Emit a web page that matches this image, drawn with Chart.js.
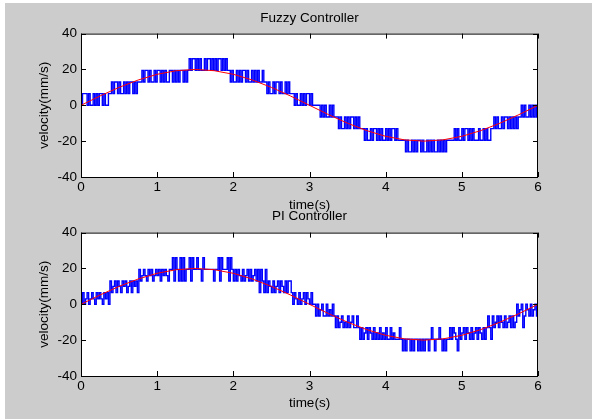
<!DOCTYPE html>
<html>
<head>
<meta charset="utf-8">
<script src="https://cdn.jsdelivr.net/npm/chart.js@4"></script>
<style>
    html, body { margin: 0; padding: 0; background: #ffffff; }
    #figura { position: absolute; left: 5px; top: 3px; width: 587px; height: 416px; background: #cccccc; }
    canvas { position: absolute; left: 0; }
    #grafico-fuzzy { top: 0; width: 592px; height: 213px; }
    #grafico-pi { top: 200px; width: 592px; height: 219px; }
</style>
</head>
<body>
<div id="figura"></div>
<canvas id="grafico-fuzzy" width="592" height="213"></canvas>
<canvas id="grafico-pi" width="592" height="219"></canvas>
<script>
const passoAmostra = 0.02; // s entre amostras medidas

const ticksTempo = [0, 1, 2, 3, 4, 5, 6];
const ticksVelocidade = [-40, -20, 0, 20, 40];

// referencia (linha vermelha)
const tempoReferencia = [0, 0.25, 0.5, 0.75, 1, 1.25, 1.5, 1.75, 2, 2.25, 2.5, 2.75, 3,
    3.25, 3.5, 3.75, 4, 4.25, 4.5, 4.75, 5, 5.25, 5.5, 5.75, 6];
const velocidadeReferencia = [0, 5.2, 10, 14.1, 17.3, 19.3, 20, 19.3, 17.3, 14.1, 10, 5.2, 0,
    -5.2, -10, -14.1, -17.3, -19.3, -20, -19.3, -17.3, -14.1, -10, -5.2, 0];

// velocidade medida com controlador fuzzy, uma amostra a cada 0.02 s
const velocidadeFuzzy = [
    0, 6.5, 6.5, 6.5, 0, 6.5, 0, 0, 6.5, 0, 6.5, 0, 6.5, 6.5, 0, 6.5, 0, 0, 6.5,
    6.5, 13, 6.5, 13, 13, 6.5, 13, 6.5, 6.5, 13, 6.5, 13, 6.5, 13, 13, 6.5, 13, 6.5, 13,
    13, 13, 19.5, 13, 19.5, 19.5, 13, 19.5, 13, 13, 19.5, 13, 19.5, 19.5, 13, 19.5, 13, 19.5, 13, 13, 19.5, 19.5, 13, 19.5, 13, 19.5, 13, 19.5, 19.5, 13, 19.5, 13,
    19.5, 26, 19.5, 26, 26, 19.5, 26, 19.5, 26, 19.5, 19.5, 26, 19.5, 26, 26, 19.5, 26, 19.5, 26, 19.5, 26, 26, 19.5, 26, 19.5, 26, 19.5,
    19.5, 13, 19.5, 13, 13, 19.5, 13, 19.5, 13, 19.5, 19.5, 13, 19.5, 13, 13, 19.5, 13, 19.5, 13, 19.5, 13, 13, 19.5, 13,
    13, 6.5, 13, 6.5, 6.5, 13, 6.5, 13, 13, 6.5, 13, 6.5, 6.5, 13, 6.5, 13, 6.5, 6.5,
    6.5, 0, 6.5, 0, 0, 6.5, 0, 6.5, 0, 6.5, 6.5, 0, 6.5, 0,
    0, 0, 0, 0, -6.5, 0, -6.5, 0, -6.5, -6.5, 0, -6.5, 0, -6.5, -6.5,
    -6.5, -13, -6.5, -13, -13, -6.5, -13, -6.5, -13, -6.5, -6.5, -13, -6.5, -13, -6.5, -13, -13,
    -13, -19.5, -13, -19.5, -19.5, -13, -19.5, -13, -13, -19.5, -13, -19.5, -13, -19.5, -19.5, -13, -19.5, -13, -19.5, -13, -13, -19.5, -13, -19.5,
    -19.5, -19.5, -19.5, -19.5,
    -26, -19.5, -26, -26, -19.5, -26, -19.5, -26, -19.5, -19.5, -26, -19.5, -26, -26, -19.5, -26, -19.5, -26, -19.5, -26, -26, -19.5, -26, -19.5, -26, -19.5, -26, -19.5,
    -19.5, -19.5, -19.5, -19.5,
    -13, -19.5, -13, -19.5, -19.5, -13, -19.5, -13, -13, -19.5, -13, -19.5, -13, -19.5, -19.5, -19.5, -13, -19.5, -19.5, -13, -19.5, -13, -19.5, -19.5,
    -13, -13, -6.5, -13, -6.5, -13, -13, -6.5, -13, -6.5, -6.5, -13, -6.5, -13, -6.5, -13, -6.5, -13,
    -6.5, -6.5, 0, -6.5, 0, -6.5, -6.5, 0, -6.5, 0, -6.5, 0, -6.5, 0
];

// velocidade medida com controlador PI, mesma amostragem
const velocidadePi = [
    0, 6.5, 0, 3, 6.5, 0, 3, 6.5, 3, 0, 6.5, 3, 6.5, 3, 0, 6.5, 3, 6.5,
    0,
    13, 6.5, 10, 13, 6.5, 13, 10, 6.5, 13, 10, 13, 6.5, 10, 13, 6.5, 13, 10, 13,
    6.5,
    19.5, 13, 16, 19.5, 16, 13, 19.5, 16, 19.5, 13, 16, 19.5, 16, 19.5, 13, 19.5, 16, 19.5, 16, 13, 19.5,
    19.5, 26, 13, 26, 19.5, 13, 26, 13, 26, 13, 19.5, 19.5, 26, 13, 26, 19.5, 19.5, 26, 19.5, 19.5, 13,
    26, 19.5, 19.5, 19.5, 19.5, 19.5, 19.5, 13, 19.5, 19.5, 26, 13, 26, 19.5, 19.5, 19.5, 26, 13, 26, 19.5,
    13, 19.5, 13, 19.5, 16, 13, 19.5, 13, 16, 19.5, 13, 19.5, 13, 16, 19.5, 13, 19.5, 6.5, 19.5, 13, 6.5,
    19.5, 6.5, 13, 10, 6.5, 13, 6.5, 10, 13, 6.5, 13, 10, 6.5, 13, 6.5, 13,
    13, 6.5, 0, 6.5, 3, 0, 6.5, 0, 3, 6.5, 0, 6.5, 3, 0, 6.5, 0, 0,
    -6.5, 0, -6.5, -3, 0, -6.5, -6.5, 0, -6.5, -3, -6.5, 0, -6.5,
    -13, -6.5, -13, -10, -6.5, -13, -10, -13, -6.5, -13, -10, -6.5, -13, -13, -6.5, -13,
    -19.5, -13, -19.5, -16, -13, -19.5, -13, -16, -19.5, -13, -19.5, -16, -19.5, -13, -19.5, -16, -19.5, -13, -19.5, -19.5, -13, -19.5, -16, -19.5, -19.5,
    -19.5, -13, -19.5, -26, -19.5, -26, -19.5, -19.5, -26, -19.5, -26, -19.5, -19.5, -26, -19.5, -26, -19.5,
    -26, -19.5, -19.5, -26, -19.5, -13, -19.5, -26, -19.5, -19.5, -13, -19.5, -26, -19.5, -26, -19.5, -19.5,
    -13, -19.5, -13, -16, -19.5, -26, -13, -19.5, -16, -13, -19.5, -13, -16, -19.5, -13, -19.5, -16, -13, -19.5, -13, -16, -19.5, -13, -19.5, -13,
    -6.5, -13, -19.5, -6.5, -13, -10, -6.5, -13, -6.5, -10, -13, -6.5, -13, -10, -6.5, -13, -6.5, -13, -10,
    0, -6.5, -3, 0, -13, -6.5, 0, -3, -6.5, 0, -6.5, -3, 0, -6.5, 0
];

const fonteTexto = { family: "'Liberation Sans', Arial, sans-serif", size: 13.5, weight: 'normal', lineHeight: 1.2 };

function paraPontos(tempos, valores) {
    return valores.map((v, i) => ({ x: tempos ? tempos[i] : i * passoAmostra, y: v }));
}

// caixa preta e ticks para dentro, como no matlab
const molduraMatlab = {
    id: 'molduraMatlab',
    beforeDraw(chart) {
        const { ctx, chartArea: a } = chart;
        ctx.save();
        ctx.fillStyle = '#ffffff';
        ctx.fillRect(a.left, a.top, a.right - a.left, a.bottom - a.top);
        ctx.restore();
    },
    afterDraw(chart) {
        const { ctx, chartArea: a, scales } = chart;
        ctx.save();
        ctx.strokeStyle = '#000000';
        ctx.lineWidth = 1;
        ctx.beginPath();
        ticksTempo.forEach(t => {
            const px = Math.round(scales.x.getPixelForValue(t)) + 0.5;
            ctx.moveTo(px, a.bottom); ctx.lineTo(px, a.bottom - 5);
            ctx.moveTo(px, a.top); ctx.lineTo(px, a.top + 5);
        });
        ticksVelocidade.forEach(v => {
            const py = Math.round(scales.y.getPixelForValue(v)) + 0.5;
            ctx.moveTo(a.left, py); ctx.lineTo(a.left + 5, py);
            ctx.moveTo(a.right, py); ctx.lineTo(a.right - 5, py);
        });
        ctx.stroke();
        ctx.strokeRect(a.left + 0.5, a.top + 0.5, a.right - a.left - 1, a.bottom - a.top);
        ctx.restore();
    }
};

function criarGrafico(idCanvas, titulo, serie, ajuste) {
    const ctx = document.getElementById(idCanvas).getContext('2d');
    return new Chart(ctx, {
        type: 'line',
        data: {
            datasets: [{
                label: 'referencia',
                data: paraPontos(tempoReferencia, velocidadeReferencia),
                borderColor: '#ff0000',
                borderWidth: 1,
                pointRadius: 0
            }, {
                label: titulo,
                data: paraPontos(null, serie),
                borderColor: '#0000ff',
                borderWidth: 1.4,
                pointRadius: 0,
                stepped: true
            }]
        },
        options: {
            responsive: false,
            animation: false,
            layout: { padding: { left: 0, right: 54, top: 0, bottom: 0 } },
            scales: {
                x: {
                    type: 'linear',
                    min: 0,
                    max: 6,
                    afterFit: (escala) => { escala.height = ajuste.alturaEixoX; },
                    afterBuildTicks: (escala) => { escala.ticks = ticksTempo.map(v => ({ value: v })); },
                    grid: { display: false, drawTicks: false },
                    border: { display: false },
                    ticks: { color: '#000000', font: fonteTexto, padding: 2, maxRotation: 0 },
                    title: { display: true, text: 'time(s)', color: '#000000', font: fonteTexto, padding: { top: 0, bottom: ajuste.paddingTempo } }
                },
                y: {
                    min: -40,
                    max: 40,
                    afterFit: (escala) => { escala.width = 81; },
                    afterBuildTicks: (escala) => { escala.ticks = ticksVelocidade.map(v => ({ value: v })); },
                    grid: { display: false, drawTicks: false },
                    border: { display: false },
                    ticks: { color: '#000000', font: fonteTexto, padding: 4 },
                    title: { display: true, text: 'velocity(mm/s)', color: '#000000', font: fonteTexto, padding: { top: 36, bottom: 0 } }
                }
            },
            plugins: {
                legend: { display: false },
                tooltip: { enabled: false },
                title: { display: true, fullSize: false, text: titulo, color: '#000000', font: fonteTexto, padding: ajuste.paddingTitulo }
            }
        },
        plugins: [molduraMatlab]
    });
}

const graficoFuzzy = criarGrafico('grafico-fuzzy', 'Fuzzy Controller', velocidadeFuzzy,
    { alturaEixoX: 36, paddingTempo: 0, paddingTitulo: { top: 10, bottom: 7.4 } });
const graficoPi = criarGrafico('grafico-pi', 'PI Controller', velocidadePi,
    { alturaEixoX: 43, paddingTempo: 8, paddingTitulo: { top: 8, bottom: 8.4 } });
</script>
</body>
</html>
